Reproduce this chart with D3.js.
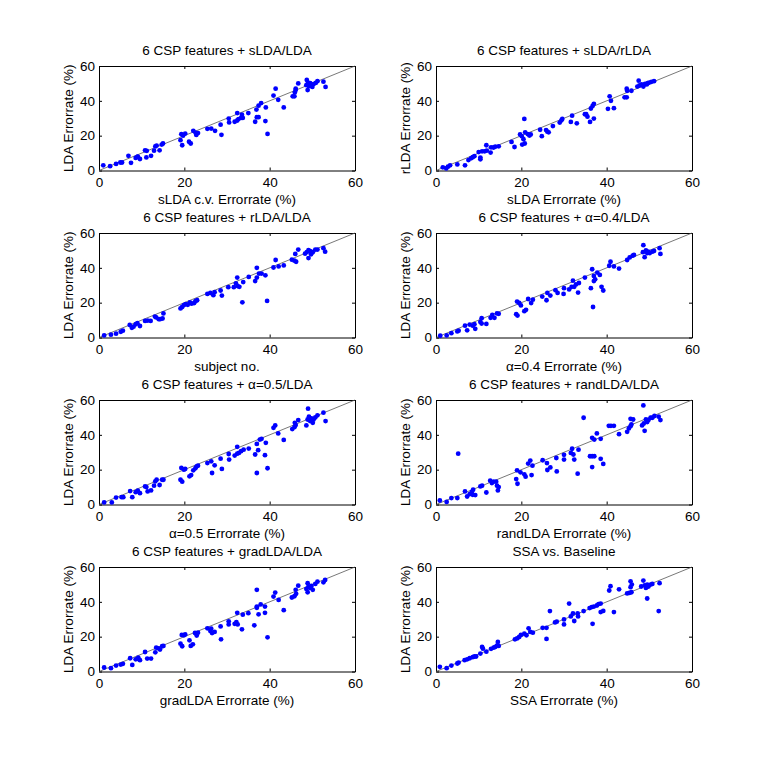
<!DOCTYPE html>
<html>
<head>
<meta charset="utf-8">
<script src="https://cdn.jsdelivr.net/npm/d3@7"></script>
<style>
  body { margin: 0; background: #fff; }
  text { font-family: "Liberation Sans", Arial, sans-serif; font-size: 13.5px; fill: #000; }
  .axis path, .axis line { stroke: #000; stroke-width: 1; }
</style>
</head>
<body>
<div id="chart"></div>
<script>
// tick labels shared by every panel
var ticks = [0, 20, 40, 60];

var titles = [
    "6 CSP features + sLDA/LDA",
    "6 CSP features + sLDA/rLDA",
    "6 CSP features + rLDA/LDA",
    "6 CSP features + \u03b1=0.4/LDA",
    "6 CSP features + \u03b1=0.5/LDA",
    "6 CSP features + randLDA/LDA",
    "6 CSP features + gradLDA/LDA",
    "SSA vs. Baseline"
];

var xLabels = [
    "sLDA c.v. Errorrate (%)",
    "sLDA Errorrate (%)",
    "subject no.",
    "\u03b1=0.4 Errorrate (%)",
    "\u03b1=0.5 Errorrate (%)",
    "randLDA Errorrate (%)",
    "gradLDA Errorrate (%)",
    "SSA Errorrate (%)"
];

var yLabels = [
    "LDA Errorrate (%)",
    "rLDA Errorrate (%)",
    "LDA Errorrate (%)",
    "LDA Errorrate (%)",
    "LDA Errorrate (%)",
    "LDA Errorrate (%)",
    "LDA Errorrate (%)",
    "LDA Errorrate (%)"
];

// [x, y] error rates per panel
var sldaLda = [[1,3],[2.6,2.5],[4,3.8],[5,4.6],[5.4,4.6],[6.9,8.4],[7.5,4.4],[8.6,7.2],[9.1,8],[9.6,6.6],[9,7.8],[10.8,11.6],[11.2,11.3],[11.1,7.5],[12.2,8.4],[13.2,13.8],[13.5,14.3],[12.9,11.4],[14.2,11.6],[15,15.5],[14.7,14.9],[19.3,20.8],[20.2,21.2],[19.7,20],[19.1,17.4],[19.5,14.5],[21.1,16.5],[21.5,15.5],[22.1,22.8],[22.6,21.8],[22.8,20.4],[23.2,21.5],[25.4,23.9],[26.3,24.1],[27.2,22.8],[28.7,20.5],[28.5,26.3],[30.4,29.8],[30.5,27.6],[31.8,28],[32.4,28.7],[32.7,29.5],[33.3,30.2],[33.7,30.2],[33.5,32],[32.4,33],[35,33],[36.6,28],[37,30.6],[37.4,30.6],[36.9,35],[37.4,37.2],[38,38.7],[39,28.4],[39.1,36.2],[39.5,21],[40.9,43],[41.4,47],[42,40.6],[43.3,36.2],[45.4,42.6],[45.8,42.6],[45.9,44.8],[46.1,47],[46.1,46.2],[46.7,50],[48.7,52],[48.6,49],[48.9,46.2],[49.2,48.4],[49.7,49.2],[50,48],[50.3,49.6],[50.8,50.3],[51.2,51.3],[49,50.5],[49.5,50.2],[52.6,51],[53.1,48]];

var sldaRlda = [[1.6,1.8],[2.4,1.2],[2.8,2.2],[3.3,3],[5,3.5],[6.8,3],[7.6,6],[8.2,7],[8.6,7.6],[9,8.2],[10.4,6.4],[10.4,7.4],[10,10.6],[10.8,11],[11.4,11],[11.9,11.4],[11.8,14.5],[12.8,10.3],[12.9,13.3],[13.5,13.2],[13.9,13.7],[14.7,13.9],[17.7,16.4],[18.4,13.5],[19.7,20.7],[20.1,19.7],[20.5,18],[20.2,14.9],[20.8,15.5],[20.7,29.6],[20.9,21.9],[21.5,20.9],[21.9,20.1],[22.2,20.7],[24.4,23.4],[24.8,19.7],[25.8,23.2],[26.1,22.3],[26.4,21.9],[27.4,25.5],[29,27.5],[29.4,28.8],[29.6,29.6],[31.9,31.5],[31.6,27.9],[33,27.1],[34.9,32.3],[35.2,32.3],[35.5,30.9],[36.1,27.9],[37,29.8],[36.3,35.6],[36.7,37.1],[37,38.3],[40.3,35.4],[40.7,42.6],[41,40],[41.7,35.8],[44.2,42],[44.7,42],[44.7,47],[44.8,45.8],[45.8,45.8],[47.5,51.6],[47.2,48.2],[47.7,48.8],[48.2,49.4],[48.6,48.2],[49,49.7],[49.4,49.4],[49.6,50.1],[50,50.5],[50.5,50.9],[51.1,51.3]];

var rldaLda = [[1.2,1.2],[2.8,1.6],[4,2.2],[5.1,3.3],[5.6,3.9],[7.2,7.2],[7.7,5.6],[8.1,6.2],[8.6,7.6],[9,8.2],[9.6,6.6],[10.8,9.5],[11.4,9.7],[12.1,9.5],[13.1,12],[13.4,11.5],[14,10.5],[14.3,10.5],[14.9,10.9],[15.1,13.8],[19.1,16.7],[19.5,17.5],[19.9,18.6],[20.3,19.2],[20.8,18.8],[21.3,20.2],[21.7,19.4],[22.3,19.8],[22.6,20.8],[23,21.4],[25.4,25],[26.1,25.6],[26.8,24.3],[27.1,26],[28.5,27],[28.8,24.1],[30.3,28.9],[31.6,28.9],[32.1,31.1],[32.5,29.5],[32.4,34.4],[32.9,29.1],[33.6,20.2],[33.8,31.8],[35.1,34.8],[36.6,32.4],[37,34.4],[37,40],[37.5,36.7],[38.1,36.7],[39,35.7],[39.4,21],[40.9,40.2],[41.4,44.5],[42.1,40.8],[43.3,41.4],[45.2,44.7],[45.8,44.1],[46,48],[46.2,43.5],[46.7,50.5],[48.3,48.2],[48.7,49],[49.1,50.1],[49.1,45.6],[49.5,49.6],[49.7,47.8],[50.1,49],[50.7,50.5],[51.2,50.5],[52.6,51.3],[53,49.3]];

var alpha04Lda = [[1,1],[2.5,1.2],[3.6,2.5],[5,3.5],[5.3,3.9],[6.8,6.8],[7.3,4.1],[7.9,7.4],[8.6,6.8],[9,7.6],[9.2,5],[10.4,8.9],[10.7,11.1],[10.7,8],[11.8,7.8],[12.8,11.3],[13.2,13],[13.7,11.3],[14.3,13.8],[14.7,13.6],[18.8,13.4],[19.1,12.6],[19,20.6],[19.5,19.8],[19.9,18.4],[20.7,15.1],[21.1,15.9],[21.6,22.1],[22.3,19.8],[22.7,21.7],[24.9,23.5],[25.9,21.4],[26.1,25.6],[26.8,24.1],[28,27.2],[28.5,25.6],[30,28.3],[29.9,25],[31.2,27.6],[31.8,29.1],[32.1,32.6],[32.4,29.1],[32.8,30.5],[33.3,25.8],[33.5,31.3],[34.9,34.4],[36.3,28.3],[36.6,39.2],[37,32.4],[37,35.3],[36.8,17.5],[37.3,33.4],[37.8,37.3],[38.4,35.9],[38.8,29.1],[39.2,27],[40.6,41.2],[40.9,43.5],[41.7,40.8],[42.9,39.6],[44.8,44.5],[45.4,46],[46.1,47],[46.4,47.4],[48.6,53],[48.5,49],[48.9,46.1],[49.2,50],[49.5,48.5],[49.7,49.3],[50.1,48.5],[50.7,49.3],[51.1,49.7],[52.4,51.3],[52.6,48]];

var alpha05Lda = [[1.2,1.2],[3,1.2],[4,4],[5.3,4.2],[5.7,4.2],[7.3,7.7],[7.8,4.2],[8.6,7.1],[9.1,7.9],[9.6,6.5],[10.8,10.4],[11.4,7.5],[11.1,10],[12.2,8.1],[13.2,13.3],[13.5,14.2],[12.9,10.8],[14.2,11.2],[14.8,14.2],[15.1,14.2],[19.1,14.2],[19.5,13.1],[19.3,21],[19.9,20],[20.2,20.4],[21.2,16.2],[21.6,16.9],[22.1,19.6],[22.6,20.8],[22.9,21.9],[23.2,22.3],[25.4,23.8],[26.3,24.8],[27.1,22.5],[26.5,18.1],[28.5,26.3],[28.8,20.4],[30.4,29],[30.5,25.8],[31.8,28.1],[32.4,29.2],[32.8,29.6],[33.3,30.6],[33.9,31.5],[32.4,33.1],[35.1,32.1],[36.6,28.7],[37.3,31.2],[37,34.8],[37.7,37.3],[38.1,37.7],[37,18.1],[38.9,28.3],[39.1,35.4],[39.5,20.8],[40.9,44],[41.3,45.4],[42,40.8],[43.3,37.1],[45.3,43.3],[45.8,44.4],[46.1,45.6],[45.9,46.9],[46.7,48.5],[48.6,45.4],[49,55],[48.9,48.8],[49.2,50.4],[49.5,47.9],[49.8,49.4],[50.1,46.9],[50.3,48.8],[50.7,50],[51.2,51.2],[52.6,52.7],[53.1,47.9]];

var randLda = [[0.9,2.3],[2.5,1.5],[3.6,3.7],[5,3.7],[5.2,29.2],[6.8,7.5],[7.3,4.6],[7.9,6],[8.4,7.3],[8.7,8.5],[9.2,5.4],[8.6,5.6],[10.4,10.4],[10.8,10.8],[11.8,6.9],[12.7,13.7],[13.1,12.3],[13.5,13.1],[14.1,13.1],[14.5,8.1],[14.7,10],[14.3,10.8],[18.8,14.6],[19.1,11.9],[19,19.6],[19.8,18.5],[20.7,17.3],[21,16],[21.6,23.5],[22.1,25.2],[22.6,22.3],[22.4,16.9],[25,25.4],[26,23.8],[26.1,19.8],[26.8,21.3],[28.3,19],[28.2,26.7],[30,28.5],[30,25.8],[31.6,29.6],[31.9,32],[32.2,28.7],[32.4,25.8],[33.2,17.7],[33.4,31.5],[34.6,49.8],[36.1,27.7],[36.6,27.7],[37.1,27.7],[36.6,21.5],[36.6,38.3],[37.1,37.3],[37.7,40.8],[38.6,37.7],[38.6,26.2],[39.2,23.3],[40.5,45.2],[41,45.2],[41.7,45.2],[42.9,40.4],[44.8,41.7],[45.2,43.7],[45.6,45],[45.8,46],[45.6,49.2],[46.2,48.8],[48.3,45.4],[48.7,46.5],[48.6,56.9],[48.9,42.3],[49.2,48.8],[49.5,47.3],[49.8,48.5],[50.3,49.8],[50.7,49.8],[51.2,50.8],[52.2,50.4],[52.6,48.5]];

var gradLda = [[1.2,2.3],[2.8,1.9],[4,3.4],[5.1,4],[5.6,4.4],[7.3,7.6],[7.8,3.8],[8.6,7],[9.2,8],[9.6,6.5],[9.1,7.2],[10.8,11.2],[11.3,7.4],[12.2,7.4],[13.2,11],[13.4,13.7],[13.9,13.3],[14.3,12.6],[14.8,14.5],[15.1,14.7],[19.1,16],[19.5,14.5],[19.4,21],[19.9,20.8],[20.2,21.3],[21.2,17.9],[21.5,14.7],[22,15.6],[22.5,22.1],[22.9,20.6],[23.2,22.3],[25.4,24.8],[26.1,23.2],[26.5,22.1],[27.1,22.7],[26.3,24.6],[28.6,18.5],[28.5,25.9],[30.4,28.8],[30.4,27],[31.8,27.4],[32.2,28.4],[32.5,27],[33.5,24.2],[32.4,33.7],[33.7,32.6],[35,33.5],[36.4,26.5],[37,46.9],[37,37.3],[37.4,32.8],[37.9,38.5],[37,36.6],[38.9,37.3],[38.9,33.7],[39.5,19.6],[40.9,43],[41.3,45.3],[42.1,41.1],[43.3,35.2],[45.2,42.5],[45.8,43.2],[46.1,46.9],[46.2,44.6],[46.7,49.3],[48.6,47.4],[48.9,50.7],[48.9,45.5],[49.1,48.8],[49.5,48],[49.8,49.1],[50.1,46.9],[50.7,50.3],[51.2,51.6],[52.6,51.2],[53,52.6]];

var ssaBaseline = [[0.9,2.7],[2.5,1.9],[3.6,3.4],[5,4.6],[5.3,5.1],[6.7,6.5],[7.3,7],[7.9,7.6],[8.6,8.2],[9,8.6],[9.4,8.6],[10.4,10.3],[10.8,14.1],[11,13.1],[11.8,11.4],[12.9,13],[13.5,13.7],[13.9,14.1],[14.3,14.9],[14.5,17],[14.7,14.7],[18.5,18.5],[19,19],[19.5,19.8],[19.9,21],[20.7,21.7],[21.2,20.8],[21.7,24.8],[22.1,22.7],[22.7,22.3],[25,25.1],[25.9,25.1],[25.9,18.7],[26.7,34.7],[27.9,28.2],[28.3,28.6],[30,29.9],[30,27],[31.2,39],[31.6,31.6],[32.1,33.3],[32.4,29],[33.2,33.3],[33.3,31.6],[34.6,34.7],[36,36.4],[36.5,37],[37,37.3],[37.7,37.9],[38.1,38.7],[38.6,39],[36.7,27.4],[38.6,34.1],[39.2,34.8],[40.6,46.5],[40.9,49],[41.7,34.1],[42.9,47.2],[44.8,44.8],[45.3,45.1],[45.8,45.5],[45.6,48.4],[45.6,51.8],[45.9,49.9],[48.1,48.8],[48.6,52.2],[48.9,49.5],[49.2,48],[49.5,41.9],[49.5,49.9],[49.8,48.8],[50.3,49.9],[50.7,50.3],[52.4,50.7],[52.2,34.7]];

var panels = [sldaLda, sldaRlda, rldaLda, alpha04Lda, alpha05Lda, randLda, gradLda, ssaBaseline];


drawFigure();


function drawFigure() {
    var svg = d3.select("#chart").append("svg")
        .attr("width", 763)
        .attr("height", 763);

    svg.append("rect").attr("width", 763).attr("height", 763).attr("fill", "#fff");

    // subplot grid (4 rows x 2 cols)
    var colLeft = [99, 436];
    var rowTop = [66, 233, 400, 567];
    var w = 256, h = 104.5;

    panels.forEach(function (data, i) {
        var left = colLeft[i % 2];
        var top = rowTop[Math.floor(i / 2)];
        drawPanel(svg, data, i, left, top, w, h);
    });
}


function drawPanel(svg, data, i, left, top, w, h) {
    var x = d3.scaleLinear().domain([0, 60]).range([left, left + w]);
    var y = d3.scaleLinear().domain([0, 60]).range([top + h, top]);

    var g = svg.append("g");

    // inward ticks on all four sides
    g.append("g").attr("class", "axis")
        .attr("transform", "translate(0," + (top + h) + ")")
        .call(d3.axisBottom(x).tickValues(ticks).tickSizeInner(-3).tickSizeOuter(0).tickPadding(7));
    g.append("g").attr("class", "axis")
        .attr("transform", "translate(0," + top + ")")
        .call(d3.axisTop(x).tickValues(ticks).tickSizeInner(-3).tickSizeOuter(0).tickFormat(""));
    g.append("g").attr("class", "axis")
        .attr("transform", "translate(" + left + ",0)")
        .call(d3.axisLeft(y).tickValues(ticks).tickSizeInner(-3).tickSizeOuter(0).tickPadding(4));
    g.append("g").attr("class", "axis")
        .attr("transform", "translate(" + (left + w) + ",0)")
        .call(d3.axisRight(y).tickValues(ticks).tickSizeInner(-3).tickSizeOuter(0).tickFormat(""));

    g.selectAll(".axis text")
        .attr("fill", "#000")
        .style("font-family", "'Liberation Sans', Arial, sans-serif")
        .style("font-size", "13.5px");

    // diagonal y = x
    g.append("line")
        .attr("x1", x(0)).attr("y1", y(0))
        .attr("x2", x(60)).attr("y2", y(60))
        .attr("stroke", "#555")
        .attr("stroke-width", 0.8);

    g.selectAll("circle.pt")
        .data(data)
        .enter().append("circle")
        .attr("class", "pt")
        .attr("cx", function (d) { return x(d[0]); })
        .attr("cy", function (d) { return y(d[1]); })
        .attr("r", 2.4)
        .attr("fill", "#0000ff");

    // title
    g.append("text")
        .attr("x", left + w / 2)
        .attr("y", top - 11)
        .style("text-anchor", "middle")
        .text(titles[i]);

    // x label
    g.append("text")
        .attr("x", left + w / 2)
        .attr("y", top + h + 33)
        .style("text-anchor", "middle")
        .text(xLabels[i]);

    // y label
    g.append("text")
        .attr("transform", "translate(" + (left - 26) + "," + (top + h / 2) + ") rotate(-90)")
        .style("text-anchor", "middle")
        .text(yLabels[i]);
}
</script>
</body>
</html>
